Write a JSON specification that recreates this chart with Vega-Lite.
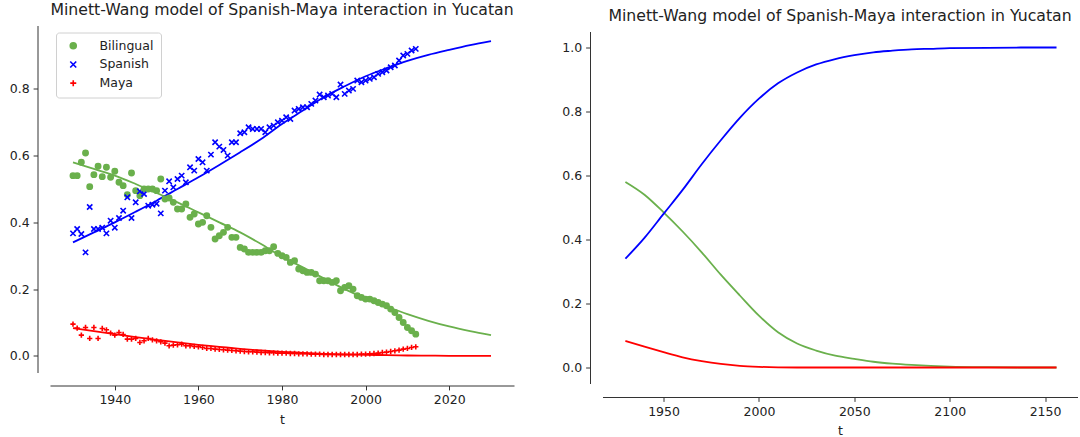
{
  "$schema": "https://vega.github.io/schema/vega-lite/v6.json",
  "background": "white",
  "padding": {"left": 9, "top": 1.5, "right": 0, "bottom": 0},
  "config": {
    "view": {"stroke": null},
    "font": "DejaVu Sans",
    "axis": {"domainColor": "#333", "tickColor": "#333", "labelColor": "#222", "labelFont": "DejaVu Sans", "labelFontSize": 12.5, "titleFont": "DejaVu Sans", "titleFontSize": 12.5, "titleFontWeight": "normal", "titleColor": "#222", "tickSize": 4.4, "labelPadding": 4, "titlePadding": 7, "grid": false, "domainWidth": 1, "tickWidth": 1},
    "title": {"font": "DejaVu Sans", "fontSize": 15.7, "fontWeight": "normal", "color": "#222", "offset": 7}
  },
  "resolve": {
    "scale": {"color": "independent", "fill": "independent", "stroke": "independent", "shape": "independent"},
    "legend": {"color": "independent", "fill": "independent", "stroke": "independent", "shape": "independent"}
  },
  "datasets": {
    "points": [
      {"t":1930,"Bilingual":0.54,"Spanish":0.367,"Maya":0.095},
      {"t":1931,"Bilingual":0.54,"Spanish":0.38,"Maya":0.083},
      {"t":1932,"Bilingual":0.58,"Spanish":0.365,"Maya":0.062},
      {"t":1933,"Bilingual":0.608,"Spanish":0.31,"Maya":0.085},
      {"t":1934,"Bilingual":0.507,"Spanish":0.446,"Maya":0.052},
      {"t":1935,"Bilingual":0.543,"Spanish":0.38,"Maya":0.085},
      {"t":1936,"Bilingual":0.568,"Spanish":0.38,"Maya":0.052},
      {"t":1937,"Bilingual":0.537,"Spanish":0.384,"Maya":0.082},
      {"t":1938,"Bilingual":0.565,"Spanish":0.367,"Maya":0.078},
      {"t":1939,"Bilingual":0.535,"Spanish":0.405,"Maya":0.068},
      {"t":1940,"Bilingual":0.553,"Spanish":0.384,"Maya":0.062},
      {"t":1941,"Bilingual":0.52,"Spanish":0.413,"Maya":0.07},
      {"t":1942,"Bilingual":0.51,"Spanish":0.435,"Maya":0.064},
      {"t":1943,"Bilingual":0.483,"Spanish":0.475,"Maya":0.05},
      {"t":1944,"Bilingual":0.548,"Spanish":0.413,"Maya":0.05},
      {"t":1945,"Bilingual":0.495,"Spanish":0.46,"Maya":0.052},
      {"t":1946,"Bilingual":0.48,"Spanish":0.493,"Maya":0.04},
      {"t":1947,"Bilingual":0.5,"Spanish":0.485,"Maya":0.045},
      {"t":1948,"Bilingual":0.5,"Spanish":0.45,"Maya":0.052},
      {"t":1949,"Bilingual":0.5,"Spanish":0.453,"Maya":0.048},
      {"t":1950,"Bilingual":0.495,"Spanish":0.456,"Maya":0.045},
      {"t":1951,"Bilingual":0.53,"Spanish":0.427,"Maya":0.042},
      {"t":1952,"Bilingual":0.47,"Spanish":0.495,"Maya":0.038},
      {"t":1953,"Bilingual":0.473,"Spanish":0.523,"Maya":0.03},
      {"t":1954,"Bilingual":0.46,"Spanish":0.505,"Maya":0.032},
      {"t":1955,"Bilingual":0.44,"Spanish":0.53,"Maya":0.033},
      {"t":1956,"Bilingual":0.44,"Spanish":0.54,"Maya":0.035},
      {"t":1957,"Bilingual":0.455,"Spanish":0.52,"Maya":0.03},
      {"t":1958,"Bilingual":0.415,"Spanish":0.565,"Maya":0.03},
      {"t":1959,"Bilingual":0.425,"Spanish":0.555,"Maya":0.028},
      {"t":1960,"Bilingual":0.395,"Spanish":0.59,"Maya":0.027},
      {"t":1961,"Bilingual":0.4,"Spanish":0.58,"Maya":0.025},
      {"t":1962,"Bilingual":0.42,"Spanish":0.555,"Maya":0.022},
      {"t":1963,"Bilingual":0.385,"Spanish":0.603,"Maya":0.022},
      {"t":1964,"Bilingual":0.35,"Spanish":0.64,"Maya":0.02},
      {"t":1965,"Bilingual":0.36,"Spanish":0.627,"Maya":0.019},
      {"t":1966,"Bilingual":0.37,"Spanish":0.617,"Maya":0.018},
      {"t":1967,"Bilingual":0.385,"Spanish":0.6,"Maya":0.017},
      {"t":1968,"Bilingual":0.355,"Spanish":0.64,"Maya":0.016},
      {"t":1969,"Bilingual":0.355,"Spanish":0.64,"Maya":0.015},
      {"t":1970,"Bilingual":0.325,"Spanish":0.667,"Maya":0.014},
      {"t":1971,"Bilingual":0.32,"Spanish":0.67,"Maya":0.013},
      {"t":1972,"Bilingual":0.31,"Spanish":0.685,"Maya":0.012},
      {"t":1973,"Bilingual":0.31,"Spanish":0.68,"Maya":0.012},
      {"t":1974,"Bilingual":0.31,"Spanish":0.68,"Maya":0.011},
      {"t":1975,"Bilingual":0.31,"Spanish":0.68,"Maya":0.01},
      {"t":1976,"Bilingual":0.315,"Spanish":0.67,"Maya":0.01},
      {"t":1977,"Bilingual":0.315,"Spanish":0.685,"Maya":0.009},
      {"t":1978,"Bilingual":0.327,"Spanish":0.69,"Maya":0.009},
      {"t":1979,"Bilingual":0.307,"Spanish":0.7,"Maya":0.008},
      {"t":1980,"Bilingual":0.3,"Spanish":0.705,"Maya":0.008},
      {"t":1981,"Bilingual":0.295,"Spanish":0.715,"Maya":0.008},
      {"t":1982,"Bilingual":0.28,"Spanish":0.71,"Maya":0.007},
      {"t":1983,"Bilingual":0.285,"Spanish":0.735,"Maya":0.007},
      {"t":1984,"Bilingual":0.26,"Spanish":0.74,"Maya":0.006},
      {"t":1985,"Bilingual":0.255,"Spanish":0.745,"Maya":0.006},
      {"t":1986,"Bilingual":0.25,"Spanish":0.745,"Maya":0.006},
      {"t":1987,"Bilingual":0.25,"Spanish":0.755,"Maya":0.005},
      {"t":1988,"Bilingual":0.245,"Spanish":0.765,"Maya":0.005},
      {"t":1989,"Bilingual":0.225,"Spanish":0.783,"Maya":0.005},
      {"t":1990,"Bilingual":0.225,"Spanish":0.775,"Maya":0.004},
      {"t":1991,"Bilingual":0.225,"Spanish":0.78,"Maya":0.004},
      {"t":1992,"Bilingual":0.22,"Spanish":0.785,"Maya":0.004},
      {"t":1993,"Bilingual":0.225,"Spanish":0.775,"Maya":0.004},
      {"t":1994,"Bilingual":0.195,"Spanish":0.813,"Maya":0.004},
      {"t":1995,"Bilingual":0.205,"Spanish":0.785,"Maya":0.004},
      {"t":1996,"Bilingual":0.21,"Spanish":0.795,"Maya":0.004},
      {"t":1997,"Bilingual":0.2,"Spanish":0.8,"Maya":0.004},
      {"t":1998,"Bilingual":0.18,"Spanish":0.825,"Maya":0.004},
      {"t":1999,"Bilingual":0.175,"Spanish":0.82,"Maya":0.005},
      {"t":2000,"Bilingual":0.17,"Spanish":0.825,"Maya":0.005},
      {"t":2001,"Bilingual":0.17,"Spanish":0.83,"Maya":0.006},
      {"t":2002,"Bilingual":0.165,"Spanish":0.835,"Maya":0.007},
      {"t":2003,"Bilingual":0.16,"Spanish":0.845,"Maya":0.008},
      {"t":2004,"Bilingual":0.155,"Spanish":0.85,"Maya":0.01},
      {"t":2005,"Bilingual":0.15,"Spanish":0.855,"Maya":0.011},
      {"t":2006,"Bilingual":0.14,"Spanish":0.865,"Maya":0.013},
      {"t":2007,"Bilingual":0.13,"Spanish":0.87,"Maya":0.015},
      {"t":2008,"Bilingual":0.115,"Spanish":0.885,"Maya":0.017},
      {"t":2009,"Bilingual":0.1,"Spanish":0.9,"Maya":0.02},
      {"t":2010,"Bilingual":0.085,"Spanish":0.905,"Maya":0.022},
      {"t":2011,"Bilingual":0.075,"Spanish":0.915,"Maya":0.025},
      {"t":2012,"Bilingual":0.065,"Spanish":0.92,"Maya":0.027}
    ],
    "fitLeft": [
      {"t":1930,"Bilingual":0.58,"Spanish":0.34,"Maya":0.083},
      {"t":1935,"Bilingual":0.56,"Spanish":0.37,"Maya":0.074},
      {"t":1940,"Bilingual":0.54,"Spanish":0.4,"Maya":0.065},
      {"t":1945,"Bilingual":0.515,"Spanish":0.432,"Maya":0.056},
      {"t":1950,"Bilingual":0.488,"Spanish":0.465,"Maya":0.048},
      {"t":1955,"Bilingual":0.46,"Spanish":0.5,"Maya":0.04},
      {"t":1960,"Bilingual":0.43,"Spanish":0.535,"Maya":0.033},
      {"t":1965,"Bilingual":0.4,"Spanish":0.572,"Maya":0.027},
      {"t":1970,"Bilingual":0.37,"Spanish":0.61,"Maya":0.021},
      {"t":1975,"Bilingual":0.335,"Spanish":0.65,"Maya":0.016},
      {"t":1980,"Bilingual":0.297,"Spanish":0.695,"Maya":0.012},
      {"t":1985,"Bilingual":0.265,"Spanish":0.735,"Maya":0.009},
      {"t":1990,"Bilingual":0.232,"Spanish":0.775,"Maya":0.006},
      {"t":1995,"Bilingual":0.2,"Spanish":0.808,"Maya":0.004},
      {"t":2000,"Bilingual":0.172,"Spanish":0.838,"Maya":0.003},
      {"t":2005,"Bilingual":0.148,"Spanish":0.862,"Maya":0.002},
      {"t":2010,"Bilingual":0.125,"Spanish":0.884,"Maya":0.001},
      {"t":2015,"Bilingual":0.105,"Spanish":0.902,"Maya":0.0005},
      {"t":2020,"Bilingual":0.088,"Spanish":0.917,"Maya":0},
      {"t":2025,"Bilingual":0.074,"Spanish":0.931,"Maya":0},
      {"t":2030,"Bilingual":0.062,"Spanish":0.943,"Maya":0}
    ],
    "fitRight": [
      {"t":1930,"Bilingual":0.58,"Spanish":0.34,"Maya":0.083},
      {"t":1940,"Bilingual":0.54,"Spanish":0.405,"Maya":0.065},
      {"t":1950,"Bilingual":0.485,"Spanish":0.48,"Maya":0.048},
      {"t":1960,"Bilingual":0.425,"Spanish":0.555,"Maya":0.032},
      {"t":1970,"Bilingual":0.36,"Spanish":0.635,"Maya":0.02},
      {"t":1980,"Bilingual":0.29,"Spanish":0.71,"Maya":0.011},
      {"t":1990,"Bilingual":0.225,"Spanish":0.78,"Maya":0.005},
      {"t":2000,"Bilingual":0.162,"Spanish":0.84,"Maya":0.002},
      {"t":2010,"Bilingual":0.11,"Spanish":0.888,"Maya":0.0005},
      {"t":2020,"Bilingual":0.075,"Spanish":0.922,"Maya":0},
      {"t":2030,"Bilingual":0.053,"Spanish":0.947,"Maya":0},
      {"t":2040,"Bilingual":0.037,"Spanish":0.964,"Maya":0},
      {"t":2050,"Bilingual":0.027,"Spanish":0.976,"Maya":0},
      {"t":2060,"Bilingual":0.018,"Spanish":0.985,"Maya":0},
      {"t":2070,"Bilingual":0.012,"Spanish":0.99,"Maya":0},
      {"t":2080,"Bilingual":0.008,"Spanish":0.994,"Maya":0},
      {"t":2090,"Bilingual":0.005,"Spanish":0.996,"Maya":0},
      {"t":2100,"Bilingual":0.003,"Spanish":0.998,"Maya":0},
      {"t":2120,"Bilingual":0.001,"Spanish":0.999,"Maya":0},
      {"t":2140,"Bilingual":0,"Spanish":1.0,"Maya":0},
      {"t":2156,"Bilingual":0,"Spanish":1.0,"Maya":0}
    ]
  },
  "spacing": 47.5,
  "hconcat": [
    {
      "width": 464,
      "height": 347,
      "title": {"text": "Minett-Wang model of Spanish-Maya interaction in Yucatan"},
      "layer": [
        {
          "data": {"name": "fitLeft"},
          "transform": [{"fold": ["Bilingual", "Spanish", "Maya"], "as": ["series", "value"]}],
          "mark": {"type": "line", "strokeWidth": 1.8, "interpolate": "monotone"},
          "encoding": {
            "x": {"field": "t", "type": "quantitative", "scale": {"domain": [1924.5, 2035.5], "nice": false, "zero": false}, "axis": {"values": [1940, 1960, 1980, 2000, 2020], "format": "d", "title": "t", "offset": 13}},
            "y": {"field": "value", "type": "quantitative", "scale": {"domain": [-0.05, 0.99], "nice": false, "zero": false}, "axis": {"values": [0, 0.2, 0.4, 0.6, 0.8], "format": ".1f", "title": null, "offset": 12.5}},
            "stroke": {"field": "series", "type": "nominal", "scale": {"domain": ["Bilingual", "Spanish", "Maya"], "range": ["#6ab04c", "#0000ff", "#ff0000"]}}
          }
        },
        {
          "data": {"name": "points"},
          "transform": [{"fold": ["Bilingual", "Spanish", "Maya"], "as": ["series", "value"]}],
          "mark": {"type": "point", "filled": true, "opacity": 1, "size": 28, "strokeWidth": 1.6},
          "encoding": {
            "x": {"field": "t", "type": "quantitative"},
            "y": {"field": "value", "type": "quantitative"},
            "fill": {"field": "series", "type": "nominal", "scale": {"domain": ["Bilingual", "Spanish", "Maya"], "range": ["#6ab04c", "#0000ff", "#ff0000"]},
              "legend": {"title": null, "orient": "none", "legendX": 6, "legendY": 7, "padding": 7, "symbolOffset": 4, "labelOffset": 20, "rowPadding": 5.7, "strokeColor": "#d0d0d0", "fillColor": "white", "cornerRadius": 3, "symbolSize": 36, "symbolStrokeWidth": 1.6, "labelFontSize": 12.5, "labelColor": "#222", "labelFont": "DejaVu Sans"}},
            "stroke": {"field": "series", "type": "nominal", "scale": {"domain": ["Bilingual", "Spanish", "Maya"], "range": ["#6ab04c", "#0000ff", "#ff0000"]},
              "legend": {"title": null, "orient": "none", "legendX": 6, "legendY": 7, "padding": 7, "symbolOffset": 4, "labelOffset": 20, "rowPadding": 5.7, "strokeColor": "#d0d0d0", "fillColor": "white", "cornerRadius": 3, "symbolSize": 36, "symbolStrokeWidth": 1.6, "labelFontSize": 12.5, "labelColor": "#222", "labelFont": "DejaVu Sans"}},
            "shape": {"field": "series", "type": "nominal", "scale": {"domain": ["Bilingual", "Spanish", "Maya"], "range": ["circle", "M-1,-1L1,1M-1,1L1,-1", "M-1,0L1,0M0,-1L0,1"]},
              "legend": {"title": null, "orient": "none", "legendX": 6, "legendY": 7, "padding": 7, "symbolOffset": 4, "labelOffset": 20, "rowPadding": 5.7, "strokeColor": "#d0d0d0", "fillColor": "white", "cornerRadius": 3, "symbolSize": 36, "symbolStrokeWidth": 1.6, "labelFontSize": 12.5, "labelColor": "#222", "labelFont": "DejaVu Sans"}}
          }
        }
      ]
    },
    {
      "width": 475,
      "height": 358,
      "title": {"text": "Minett-Wang model of Spanish-Maya interaction in Yucatan", "offset": 1},
      "data": {"name": "fitRight"},
      "transform": [{"fold": ["Bilingual", "Spanish", "Maya"], "as": ["series", "value"]}],
      "mark": {"type": "line", "strokeWidth": 1.8, "interpolate": "monotone"},
      "encoding": {
        "x": {"field": "t", "type": "quantitative", "scale": {"domain": [1918, 2167], "nice": false, "zero": false}, "axis": {"values": [1950, 2000, 2050, 2100, 2150], "format": "d", "title": "t", "offset": 13.5}},
        "y": {"field": "value", "type": "quantitative", "scale": {"domain": [-0.05, 1.05], "range": [358, 6], "nice": false, "zero": false}, "axis": {"values": [0, 0.2, 0.4, 0.6, 0.8, 1.0], "format": ".1f", "title": null, "offset": 12.5}},
        "color": {"field": "series", "type": "nominal", "scale": {"domain": ["Bilingual", "Spanish", "Maya"], "range": ["#6ab04c", "#0000ff", "#ff0000"]}, "legend": null}
      }
    }
  ]
}
